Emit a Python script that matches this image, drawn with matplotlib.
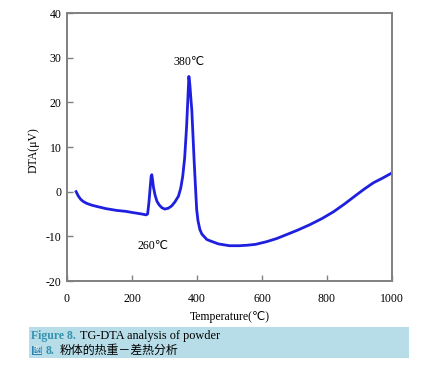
import matplotlib
matplotlib.use("Agg")
import matplotlib.pyplot as plt
from matplotlib.patches import Rectangle

temperature = [28, 35, 42, 50, 60, 75, 91, 120, 153, 180, 204, 230, 243, 248, 252, 256, 259, 261, 263, 266,
               271, 277, 284, 292, 301, 312, 322, 332, 343, 350, 356, 362, 368, 372, 375, 378, 381, 384, 388,
               391, 395, 399, 403, 409, 415, 430, 440, 466, 500, 530, 553, 580, 614, 645, 676, 710, 747, 785,
               820, 855, 891, 915, 943, 970, 1000]
dta = [0.0, -1.0, -1.7, -2.2, -2.6, -3.0, -3.3, -3.8, -4.2, -4.4, -4.7, -5.0, -5.2, -5.0, -2.5, 1.0, 3.5, 3.8,
       2.8, 1.0, -0.8, -2.2, -3.0, -3.6, -3.9, -3.7, -3.2, -2.3, -1.0, 0.8, 3.4, 7.5, 14.6, 21.0, 25.8, 24.0,
       21.0, 18.3, 12.0, 7.2, 1.5, -4.0, -6.5, -8.5, -9.5, -10.7, -11.0, -11.7, -12.1, -12.1, -12.0, -11.8,
       -11.2, -10.5, -9.6, -8.6, -7.4, -6.0, -4.5, -2.7, -0.7, 0.6, 2.0, 3.0, 4.2]
x_ticks = [0, 200, 400, 600, 800, 1000]
y_ticks = [-20, -10, 0, 10, 20, 30, 40]

plt.rcParams['font.family'] = ['Liberation Serif', 'DejaVu Sans']
plt.rcParams['axes.unicode_minus'] = False
cjk = ['Noto Sans CJK SC', 'DejaVu Sans']

fig = plt.figure(figsize=(4.31, 3.71), dpi=100)
ax = fig.add_axes([67/431, 1 - 281/371, (392-67)/431, (281-13)/371])
ax.plot(temperature, dta, color='#1f1fe0', lw=2.0, solid_joinstyle='round')
ax.set_xlim(0, 1000)
ax.set_ylim(-20, 40)
ax.set_xticks(x_ticks)
ax.set_yticks(y_ticks)
ax.tick_params(direction='in', length=4, width=1, color='#808080', labelsize=8.5, pad=9)
ax.tick_params(axis='y', pad=4)
for s in ax.spines.values():
    s.set_color('#808080')
    s.set_linewidth(1.4)
ax.set_xlabel('Temperature(℃)', fontsize=8.5, labelpad=4)
ax.set_ylabel('DTA(μV)', fontsize=8.5)
ax.yaxis.set_label_coords(-0.083, 0.49)
ax.text(375, 29.1, '380℃', fontsize=8.5, ha='center', va='center')
ax.text(265, -12.1, '260℃', fontsize=8.5, ha='center', va='center')

# caption
fig.patches.append(Rectangle((29/431, 1 - 358/371), (409-29)/431, (358-327)/371,
                             transform=fig.transFigure, facecolor='#b7dde8', edgecolor='none'))
fig.text(31/431, 1 - 336/371, 'Figure 8.', fontsize=8.5, color='#3592ad', fontweight='bold', va='center')
fig.text(80/431, 1 - 336/371, 'TG-DTA analysis of powder', fontsize=8.8, color='black', va='center')
fig.patches.append(Rectangle((32/431, 1 - 355/371), 10/431, 9/371,
                             transform=fig.transFigure, facecolor='#2a86b0', edgecolor='none'))
fig.text(37/431, 1 - 350.5/371, '图', fontsize=6.5, color='white', va='center', ha='center', family=cjk)
fig.text(46/431, 1 - 350.5/371, '8.', fontsize=8.5, color='#3592ad', fontweight='bold', va='center')
fig.text(60/431, 1 - 350.5/371, '粉体的热重－差热分析', fontsize=8.6, color='black', va='center', family=cjk)

fig.savefig('out.png', dpi=100)
